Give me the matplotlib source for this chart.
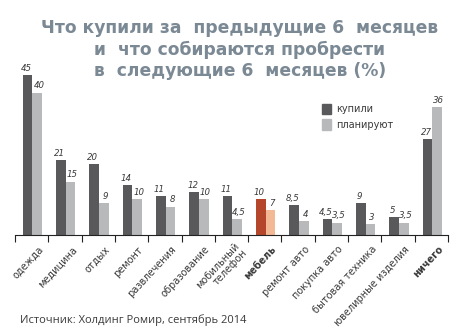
import matplotlib.pyplot as plt
from matplotlib.patches import Patch

categories = ["одежда", "медицина", "отдых", "ремонт", "развлечения", "образование",
              "мобильный\nтелефон", "мебель", "ремонт авто", "покупка авто",
              "бытовая техника", "ювелирные изделия", "ничего"]
bought = [45, 21, 20, 14, 11, 12, 11, 10, 8.5, 4.5, 9, 5, 27]
planned = [40, 15, 9, 10, 8, 10, 4.5, 7, 4, 3.5, 3, 3.5, 36]
bold_cats = ["мебель", "ничего"]
highlight = "мебель"

DARK = "#59595b"
LIGHT = "#b8b9bb"
HI_DARK = "#b4462b"
HI_LIGHT = "#f3b894"
TITLE_C = "#7b8995"
TEXT_C = "#3a3a3a"
NUM_FONT = ["Liberation Sans Narrow", "DejaVu Sans"]

def fmt(v):
    return str(v).replace(".", ",") if v % 1 else str(int(v))

fig = plt.figure(figsize=(4.63, 3.29), dpi=100)
ax = fig.add_axes([15 / 463, 94 / 329, 433 / 463, 178 / 329])

w = 0.29
for i, cat in enumerate(categories):
    c1, c2 = (HI_DARK, HI_LIGHT) if cat == highlight else (DARK, LIGHT)
    ax.bar(i + 0.38, bought[i], width=w, color=c1)
    ax.bar(i + 0.67, planned[i], width=w, color=c2)
    ax.text(i + 0.34, bought[i] + 0.6, fmt(bought[i]), ha="center", va="bottom",
            fontsize=6.2, style="italic", color=TEXT_C, family=NUM_FONT)
    ax.text(i + 0.72, planned[i] + 0.6, fmt(planned[i]), ha="center", va="bottom",
            fontsize=6.2, style="italic", color=TEXT_C, family=NUM_FONT)
    ax.text(i + 0.8, -3.6, cat, rotation=47, rotation_mode="anchor", ha="right", va="center",
            fontsize=7, color=TEXT_C, fontweight="bold" if cat in bold_cats else "normal",
            linespacing=1.0)

ax.set_xlim(0, len(categories))
ax.set_ylim(0, 50)
ax.set_xticks(range(len(categories) + 1))
ax.set_xticklabels([])
ax.tick_params(axis="x", length=5, width=0.8, direction="out", color="#222222")
ax.set_yticks([])
for s in ["top", "right", "left"]:
    ax.spines[s].set_visible(False)
ax.spines["bottom"].set_linewidth(0.8)
ax.spines["bottom"].set_color("#222222")

handles = [Patch(color=DARK, label="купили"), Patch(color=LIGHT, label="планируют")]
fig.legend(handles=handles, loc="upper left", bbox_to_anchor=(313 / 463, 1 - 95 / 329),
           frameon=False, fontsize=7, handlelength=0.9, handleheight=1.3,
           handletextpad=0.6, labelspacing=0.5, labelcolor=TEXT_C)

title = "Что купили за  предыдущие 6  месяцев\nи  что собираются пробрести\nв  следующие 6  месяцев (%)"
fig.text(240 / 463, 1 - 19 / 329, title, ha="center", va="top", fontsize=12.3,
         fontweight="bold", color=TITLE_C, family="DejaVu Sans", linespacing=1.25)

fig.text(20 / 463, 1 - 320 / 329, "Источник: Холдинг Ромир, сентябрь 2014", ha="left",
         va="center", fontsize=8, color=TEXT_C, family="Open Sans")

fig.savefig("out.png", dpi=100)
